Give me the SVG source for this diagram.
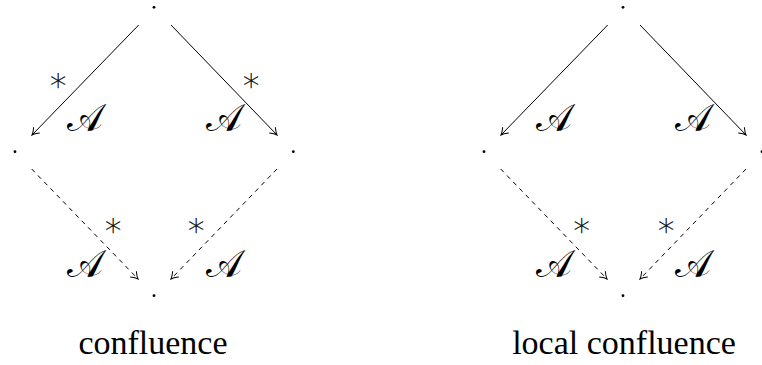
<svg xmlns="http://www.w3.org/2000/svg" width="762" height="365" viewBox="0 0 762 365">
<defs>
<marker id="tip" viewBox="-8 -5 10 10" markerWidth="10" markerHeight="10" refX="0" refY="0" orient="auto" markerUnits="userSpaceOnUse">
<path d="M -6.5,-4 Q -2.5,-0.8 0,0 Q -2.5,0.8 -6.5,4" fill="none" stroke="#000" stroke-width="1" stroke-linecap="round"/>
</marker>
<style>
.dot{fill:#000}
.e{stroke:#000;stroke-width:1;fill:none;marker-end:url(#tip)}
.d{stroke-dasharray:4.5 4.5}
.cal{font-family:"DejaVu Serif",serif;font-size:38px;text-anchor:middle;fill:#000}
.st{font-family:"DejaVu Sans",sans-serif;font-weight:200;font-size:33px;text-anchor:middle;fill:#000;stroke:#000;stroke-width:0.25}
.cap{font-family:"Liberation Serif",serif;font-size:34px;text-anchor:middle}
</style>
</defs>
<g id="connectors">
<line class="e" x1="138.7" y1="25" x2="32" y2="135"/>
<line class="e" x1="171" y1="25" x2="277" y2="135"/>
<line class="e d" x1="31.7" y1="169" x2="138" y2="279"/>
<line class="e d" x1="277" y1="169" x2="171" y2="279"/>
<line class="e" x1="607.7" y1="25" x2="501" y2="135"/>
<line class="e" x1="640" y1="25" x2="746" y2="135"/>
<line class="e d" x1="500.7" y1="169" x2="607" y2="279"/>
<line class="e d" x1="746" y1="169" x2="640" y2="279"/>
</g>
<g id="confluence">
<g id="c-top"><circle class="dot" cx="154" cy="7.3" r="1.4"/></g>
<g id="c-left"><circle class="dot" cx="15" cy="151.7" r="1.4"/></g>
<g id="c-right"><circle class="dot" cx="293.3" cy="151.7" r="1.4"/></g>
<g id="c-bottom"><circle class="dot" cx="154" cy="295.7" r="1.4"/></g>
<g id="c-labels">
<text class="st" x="58" y="91">∗</text>
<text class="cal" x="85" y="131">𝒜</text>
<text class="st" x="251" y="91">∗</text>
<text class="cal" x="224" y="131">𝒜</text>
<text class="st" x="113" y="236">∗</text>
<text class="cal" x="85" y="277">𝒜</text>
<text class="st" x="196" y="236">∗</text>
<text class="cal" x="224" y="277">𝒜</text>
</g>
<text class="cap" x="153" y="354">confluence</text>
</g>
<g id="local-confluence">
<g id="l-top"><circle class="dot" cx="623" cy="7.3" r="1.4"/></g>
<g id="l-left"><circle class="dot" cx="484" cy="151.7" r="1.4"/></g>
<g id="l-right"><circle class="dot" cx="762" cy="151.7" r="1.4"/></g>
<g id="l-bottom"><circle class="dot" cx="623" cy="295.7" r="1.4"/></g>
<g id="l-labels">
<text class="cal" x="554" y="131">𝒜</text>
<text class="cal" x="693" y="131">𝒜</text>
<text class="st" x="581.7" y="236">∗</text>
<text class="cal" x="554" y="277">𝒜</text>
<text class="st" x="666" y="236">∗</text>
<text class="cal" x="693" y="277">𝒜</text>
</g>
<text class="cap" x="624" y="354">local confluence</text>
</g>
</svg>
